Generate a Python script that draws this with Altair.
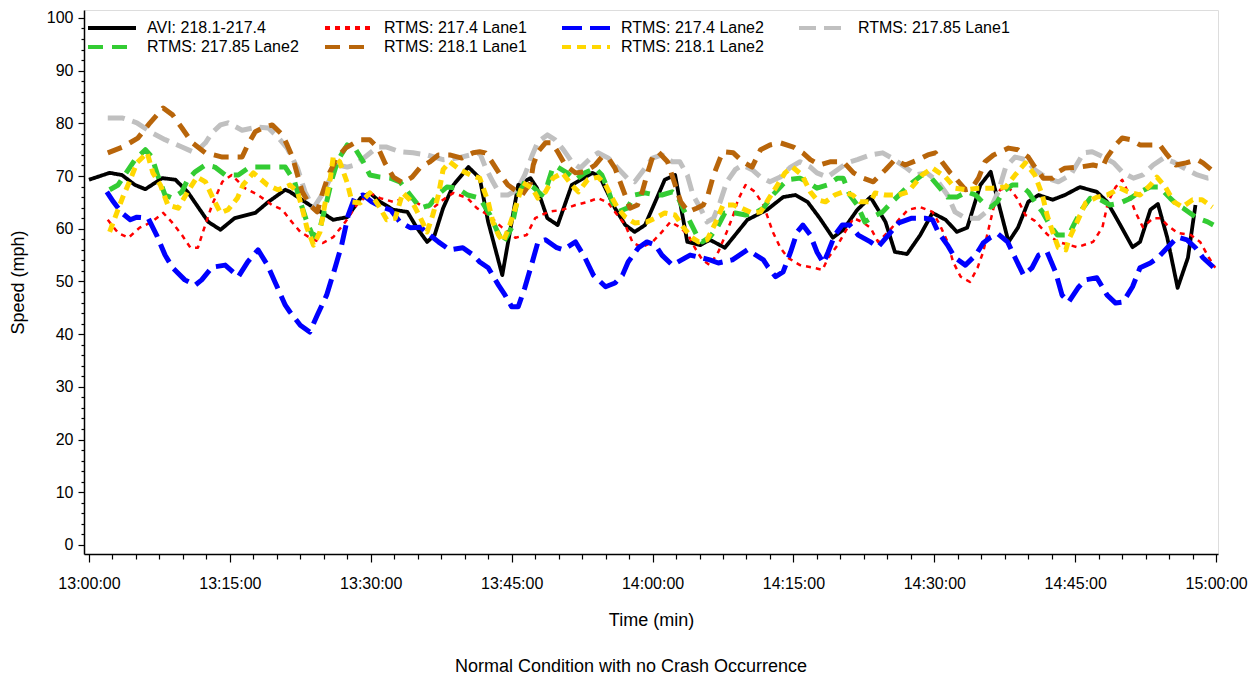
import altair as alt
import pandas as pd

# ---------------- data (minutes after 13:00:00, speed in mph) ----------------
series_names = [
    "AVI: 218.1-217.4",
    "RTMS: 217.4 Lane1",
    "RTMS: 217.4 Lane2",
    "RTMS: 217.85 Lane1",
    "RTMS: 217.85 Lane2",
    "RTMS: 218.1 Lane1",
    "RTMS: 218.1 Lane2",
]

avi_t = [0.0, 2.2, 3.5, 4.9, 6.0, 7.8, 9.2, 10.5, 12.7, 14.0, 15.5, 17.7, 19.1, 20.9, 21.4, 23.5, 26.0, 27.5,
         28.9, 29.9, 31.0, 32.4, 33.9, 34.9, 36.0, 36.8, 37.7, 38.8, 40.4, 41.6, 42.5, 44.0, 45.7, 47.0, 47.7,
         48.8, 49.9, 51.4, 53.6, 54.4, 56.0, 57.1, 58.1, 59.2, 60.6, 61.3, 62.4, 63.7, 65.1, 66.1, 67.7, 70.1,
         72.2, 73.9, 75.2, 76.5, 77.8, 79.2, 80.3, 81.8, 83.2, 84.8, 85.8, 87.1, 88.5, 89.8, 91.2, 92.4, 93.5,
         94.9, 96.0, 96.8, 97.9, 98.9, 100.0, 101.1, 102.6, 103.9, 105.5, 107.3, 108.4, 109.8, 111.1, 111.9,
         113.0, 113.8, 114.8, 115.9, 117.0, 117.8]
avi_v = [69.3, 70.6, 70.2, 68.3, 67.5, 69.6, 69.3, 67.0, 61.3, 59.8, 62.0, 63.0, 65.1, 67.4, 67.0, 64.5, 61.7, 62.2,
         65.8, 66.8, 65.1, 63.6, 63.2, 60.2, 57.5, 58.8, 63.9, 68.3, 71.7, 69.6, 61.3, 51.2, 68.3, 69.6, 67.7,
         62.0, 60.7, 68.3, 70.6, 69.8, 63.9, 60.7, 59.4, 60.7, 66.4, 69.3, 70.2, 57.5, 56.9, 57.9, 56.4, 61.7,
         63.6, 66.0, 66.4, 65.1, 62.0, 58.3, 59.8, 63.6, 66.0, 61.3, 55.6, 55.2, 58.8, 63.0, 61.7, 59.4, 60.2,
         68.3, 70.8, 65.1, 57.5, 60.2, 65.1, 66.4, 65.5, 66.4, 67.9, 67.0, 65.1, 60.7, 56.5, 57.5,
         63.6, 64.7, 58.3, 48.8, 54.5, 64.5]

r174l1_t = [2.0, 3.1, 4.2, 5.4, 6.7, 7.9, 8.8, 9.9, 10.8, 11.6, 12.1, 13.1, 14.2, 15.2, 16.6, 18.0, 19.5, 20.6,
            21.4, 22.5, 23.9, 24.9, 26.0, 27.3, 28.5, 29.9, 31.0, 32.4, 33.9, 35.3, 36.6, 37.7, 38.8, 40.3,
            41.3, 42.5, 44.0, 45.4, 46.6, 47.5, 48.9, 50.4, 51.8, 53.1, 54.2, 55.3, 56.0, 57.1, 57.9, 58.9,
            60.0, 61.0, 61.9, 62.9, 63.8, 64.5, 65.3, 66.1, 67.0, 67.9, 68.6, 69.1, 69.9, 70.9, 71.8, 72.3,
            72.8, 73.6, 74.4, 75.7, 77.1, 78.1, 78.7, 79.7, 80.5, 81.4, 82.3, 83.2, 84.0, 85.1, 86.2, 87.2,
            88.5, 89.8, 90.6, 91.4, 92.0, 92.8, 93.8, 94.6, 95.2, 95.7, 96.3, 97.0, 97.9, 98.8, 99.7, 100.7,
            102.1, 103.2, 105.2, 106.9, 107.9, 108.5, 109.3, 110.0, 110.6, 111.4, 112.2, 113.3, 114.1, 114.8,
            115.9, 117.3, 118.3, 119.2, 119.9]
r174l1_v = [61.7, 59.2, 58.3, 60.2, 61.3, 63.0, 61.3, 58.8, 56.4, 56.4, 59.2, 64.5, 68.9, 70.2, 67.7, 66.4, 64.5, 63.6,
            61.7, 59.4, 57.9, 57.3, 58.4, 61.3, 64.5, 66.8, 65.8, 65.1, 66.0, 64.5, 63.9, 65.5, 66.8, 65.8,
            63.9, 62.6, 60.2, 58.3, 58.8, 62.0, 63.2, 63.6, 64.5, 65.1, 65.8, 64.9, 63.2, 60.7, 57.3, 56.5,
            57.5, 59.4, 61.3, 60.3, 58.8, 56.4, 54.1, 53.1, 55.6, 59.4, 62.6, 65.5, 68.3, 67.0, 64.5, 62.0,
            59.4, 56.4, 54.5, 53.1, 52.6, 52.2, 54.5, 56.9, 59.4, 62.0, 61.3, 60.2, 57.5, 59.4, 61.7, 63.6,
            64.1, 63.2, 60.7, 57.5, 53.7, 50.9, 49.9, 52.6, 55.6, 59.4, 63.9, 67.4, 67.9, 65.8, 62.6, 61.5,
            58.8, 57.5, 56.5, 57.5, 60.3, 65.1, 67.9, 69.3, 67.0, 63.2, 60.3, 62.0, 62.0, 60.7,
            59.2, 58.8, 57.5, 54.6, 52.6]

r174l2_t = [1.9, 2.6, 3.5, 4.4, 5.1, 6.3, 7.2, 8.1, 8.9, 10.2, 11.3, 12.0, 13.1, 14.5, 15.9, 16.9, 18.0, 19.0,
            19.8, 20.9, 21.4, 22.5, 23.5, 24.3, 25.3, 26.2, 26.9, 27.6, 28.3, 29.2, 30.1, 31.2, 32.1, 33.1,
            34.2, 35.3, 36.3, 37.2, 38.4, 39.8, 40.9, 41.6, 42.5, 43.6, 44.3, 45.0, 45.7, 46.4, 47.2, 47.8,
            48.6, 49.8, 50.5, 51.8, 52.8, 53.7, 55.0, 56.0, 56.8, 57.4, 58.5, 59.4, 60.3, 61.0, 62.1, 64.0,
            66.1, 67.0, 68.5, 70.1, 71.8, 72.3, 73.1, 73.9, 74.7, 75.4, 76.0, 76.8, 77.5, 78.2, 78.7, 79.4,
            80.2, 81.0, 81.9, 83.2, 84.0, 85.1, 86.2, 87.6, 89.0, 89.8, 90.4, 91.4, 92.2, 93.3, 94.4, 95.2,
            96.0, 96.8, 97.8, 98.6, 99.5, 100.4, 101.1, 102.0, 102.9, 103.6, 104.3, 105.3, 106.1, 107.3,
            108.4, 109.3, 110.1, 111.1, 111.9, 113.0, 113.8, 114.8, 115.9, 116.9, 117.8, 118.6, 119.7]
r174l2_v = [67.0, 65.1, 63.0, 61.7, 62.2, 62.0, 58.8, 55.0, 52.6, 50.3, 49.3, 50.3, 52.7, 53.1, 50.9, 53.7, 56.0, 53.1,
            49.9, 45.5, 44.2, 41.7, 40.4, 43.6, 47.4, 52.6, 56.9, 62.6, 66.0, 66.4, 65.1, 64.1, 63.6, 61.3,
            60.2, 60.3, 58.8, 57.5, 56.0, 56.4, 55.0, 53.7, 52.6, 49.3, 47.4, 45.2, 45.2, 48.8, 53.7, 57.5,
            57.9, 56.4, 56.0, 57.5, 54.5, 51.2, 49.0, 49.7, 51.2, 53.7, 56.4, 57.5, 56.9, 55.0, 53.1, 55.0,
            54.1, 53.5, 54.1, 56.0, 54.1, 52.7, 50.9, 51.8, 55.6, 59.4, 60.7, 58.8, 55.6, 53.5, 55.6, 58.8,
            60.7, 60.7, 58.8, 57.5, 56.5, 58.8, 61.1, 62.0, 62.0, 61.7, 59.4, 56.9, 54.5, 53.1, 55.0, 57.3,
            58.4, 59.0, 57.5, 54.5, 51.2, 52.6, 55.0, 55.6, 51.8, 47.4, 46.1, 48.8, 50.3, 50.7,
            47.4, 45.9, 46.1, 49.0, 52.6, 53.5, 54.5, 56.4, 58.4, 57.9, 56.4, 54.5, 52.7]

r1785l1_t = [2.0, 3.6, 5.1, 6.7, 8.1, 9.9, 11.3, 12.4, 13.1, 14.0, 14.8, 16.3, 18.0, 19.1, 20.1, 21.1, 22.2, 23.0,
             23.9, 24.8, 25.7, 26.5, 27.5, 28.3, 29.4, 30.7, 31.7, 33.1, 34.5, 36.0, 37.7, 39.2, 40.6, 41.6,
             42.2, 43.0, 43.8, 44.6, 45.6, 46.4, 47.2, 47.8, 48.8, 49.6, 50.5, 51.4, 52.3, 53.4, 54.2, 55.3,
             56.3, 57.3, 58.1, 59.2, 60.0, 61.0, 62.1, 62.9, 63.7, 64.3, 65.1, 65.8, 66.5, 67.2, 67.9, 68.8,
             69.6, 70.6, 71.5, 72.5, 73.6, 74.7, 75.7, 76.8, 77.5, 78.6, 79.7, 80.7, 81.8, 83.2, 84.5, 85.5,
             86.9, 88.0, 89.2, 90.4, 91.4, 92.2, 93.3, 94.7, 96.0, 96.8, 97.6, 98.6, 99.7, 100.7, 102.0,
             103.2, 104.5, 105.9, 106.8, 108.0, 109.1, 110.1, 111.2, 112.2, 113.3, 114.4, 115.4, 116.9,
             118.0, 119.1, 119.9]
r1785l1_v = [81.0, 81.0, 80.1, 78.2, 76.9, 75.5, 74.4, 76.3, 78.2, 79.7, 80.1, 78.7, 79.3, 79.1, 77.4, 75.3, 71.5, 67.0,
             63.9, 66.4, 69.6, 72.1, 71.7, 72.1, 73.6, 75.5, 75.5, 74.6, 74.4, 74.0, 73.1, 73.4, 74.0, 74.4,
             71.7, 68.9, 66.4, 66.4, 67.4, 70.2, 74.0, 76.5, 77.8, 76.9, 75.0, 72.7, 71.5, 73.4, 74.4, 73.4,
             71.5, 69.6, 68.9, 71.5, 73.4, 74.0, 72.7, 72.7, 70.2, 66.4, 63.9, 61.3, 62.0, 65.1, 68.9, 71.2,
             72.1, 71.2, 69.8, 68.9, 69.8, 71.7, 72.7, 71.7, 70.6, 69.8, 71.2, 72.5, 73.1, 74.0, 74.4, 73.4,
             71.7, 70.2, 70.6, 68.9, 66.4, 63.2, 62.0, 62.0, 63.9, 67.0, 71.7, 73.6, 73.1, 71.2, 69.6,
             68.9, 70.2, 74.4, 74.6, 73.6, 72.5, 70.6, 69.6, 70.2, 72.1, 73.4, 72.7, 71.2,
             70.2, 69.6, 69.8]

r1785l2_t = [2.2, 3.1, 3.8, 4.9, 6.0, 6.7, 7.3, 8.1, 8.9, 9.9, 10.5, 11.3, 12.4, 13.4, 14.5, 15.9, 17.1, 18.2,
             19.5, 20.9, 21.9, 22.5, 23.2, 23.9, 24.6, 25.3, 25.9, 26.5, 27.5, 28.3, 29.2, 29.9, 31.0, 32.1,
             33.1, 34.2, 35.3, 36.3, 37.1, 38.1, 39.2, 40.3, 41.6, 42.7, 43.5, 44.1, 45.0, 45.7, 46.4, 47.3,
             48.2, 48.8, 49.4, 49.9, 50.9, 51.8, 52.8, 53.9, 54.6, 55.2, 55.7, 56.3, 57.3, 58.1, 59.2, 60.3,
             61.0, 62.1, 62.6, 63.3, 64.0, 64.7, 65.3, 66.1, 66.9, 67.7, 68.8, 69.9, 70.9, 71.8, 72.8, 73.8,
             74.4, 75.7, 76.5, 77.5, 78.6, 79.7, 80.3, 81.0, 81.8, 82.6, 83.8, 84.5, 85.5, 86.6, 87.6, 88.7,
             89.6, 90.6, 91.4, 92.4, 93.5, 94.4, 95.1, 96.0, 96.7, 97.3, 98.3, 99.1, 100.0, 100.7, 101.5,
             102.3, 103.1, 104.3, 105.0, 105.8, 106.6, 107.7, 108.7, 109.8, 110.9, 111.9, 113.0, 114.0,
             115.1, 115.9, 116.5, 118.0, 119.1, 119.7]
r1785l2_v = [67.4, 68.3, 70.2, 73.1, 75.0, 73.6, 70.2, 66.4, 65.8, 67.0, 69.3, 70.8, 72.1, 71.7, 70.2, 70.2, 71.7, 71.7,
             71.7, 71.7, 68.9, 65.1, 61.3, 58.4, 60.2, 65.1, 69.6, 73.0, 75.9, 75.3, 72.7, 70.2, 69.8, 69.6,
             68.9, 66.4, 63.9, 64.5, 66.4, 67.9, 67.7, 66.4, 65.8, 62.6, 59.4, 57.3, 60.2, 66.4, 68.9, 67.9,
             66.4, 68.3, 71.7, 71.7, 70.6, 69.3, 70.6, 71.5, 70.2, 67.7, 65.1, 63.2, 63.9, 66.4, 66.8, 66.4,
             66.4, 67.0, 66.4, 63.6, 61.3, 58.8, 57.5, 58.4, 60.3, 63.0, 63.0, 62.6, 63.0, 63.9, 66.4, 68.3,
             69.3, 69.6, 68.9, 67.7, 68.3, 69.6, 69.6, 66.4, 64.5, 61.3, 62.6, 63.2, 65.1, 67.0, 68.7, 70.2,
             69.8, 67.7, 66.0, 66.0, 67.0, 66.4, 65.1, 64.1, 65.1, 67.0, 68.3, 68.3, 67.0, 65.1, 63.2,
             60.7, 58.8, 58.8, 61.3, 63.9, 65.8, 65.5, 64.5, 64.9, 65.8, 67.0, 67.9, 67.9,
             65.8, 64.5, 63.9, 62.0, 61.3, 60.7]

r181l1_t = [2.0, 3.6, 5.2, 6.5, 7.9, 8.9, 9.9, 11.0, 12.4, 14.2, 16.3, 16.9, 17.7, 18.7, 19.5, 20.6, 21.1, 21.7,
            22.2, 22.7, 23.5, 24.3, 24.8, 25.5, 26.4, 27.3, 28.9, 29.9, 30.8, 31.5, 32.4, 33.4, 34.4, 35.3,
            36.3, 37.2, 38.4, 39.7, 40.9, 41.6, 42.2, 42.9, 43.8, 44.6, 46.1, 47.0, 47.3, 47.8, 48.6, 49.3,
            49.9, 50.7, 51.8, 52.8, 53.9, 54.6, 55.3, 56.0, 56.8, 57.6, 58.4, 58.9, 59.4, 60.0, 60.6, 61.6,
            62.1, 63.0, 63.8, 64.7, 65.4, 65.9, 66.5, 67.2, 67.5, 68.6, 69.6, 70.6, 71.5, 72.5, 73.6, 75.0,
            76.0, 76.8, 77.8, 78.9, 80.3, 81.4, 82.4, 83.5, 84.8, 85.8, 86.9, 88.3, 89.3, 90.1, 90.8, 91.7,
            92.4, 93.3, 94.0, 94.7, 95.4, 96.3, 97.9, 98.9, 100.0, 100.7, 101.6, 102.6, 103.2, 103.9, 105.5,
            106.9, 107.9, 108.4, 109.3, 110.0, 110.9, 111.9, 114.0, 114.8, 115.7, 116.8, 118.0, 118.6, 119.9]
r181l1_v = [74.4, 75.5, 77.2, 80.1, 82.9, 81.6, 79.1, 76.3, 74.4, 73.6, 73.6, 75.9, 78.4, 79.3, 79.7, 77.8, 75.9, 73.4,
            70.2, 67.0, 64.5, 63.2, 66.4, 70.2, 73.4, 75.3, 76.9, 76.9, 75.3, 72.5, 69.8, 68.7, 69.8, 71.7,
            72.7, 74.0, 74.0, 73.4, 74.4, 74.6, 74.4, 72.7, 70.2, 68.3, 66.4, 68.7, 72.1, 74.6, 76.3, 76.3,
            74.6, 72.1, 70.6, 70.8, 72.1, 73.6, 73.4, 71.5, 67.7, 63.9, 64.5, 67.0, 70.2, 73.6, 74.6, 72.7,
            70.0, 65.1, 63.2, 63.9, 64.5, 66.4, 70.2, 73.4, 74.6, 74.4, 72.7, 71.7, 75.0, 75.9, 76.3, 75.5,
            74.4, 73.1, 72.1, 72.7, 72.7, 70.6, 69.6, 68.9, 71.2, 73.1, 72.1, 73.1, 74.0, 74.4, 72.7, 70.6,
            69.3, 67.4, 67.7, 69.6, 72.7, 74.0, 75.3, 75.0, 73.6, 71.7, 69.6, 69.6, 70.8, 71.5, 71.7,
            72.1, 71.7, 73.6, 75.9, 77.2, 76.9, 75.9, 75.9, 74.0, 72.1, 72.5, 73.1, 72.5, 70.6]

r181l2_t = [2.2, 3.0, 3.6, 4.4, 5.1, 6.2, 6.8, 7.6, 8.4, 9.5, 10.5, 11.5, 12.4, 13.2, 14.0, 14.8, 15.8, 16.4,
            17.5, 19.0, 20.1, 20.9, 21.4, 22.2, 22.7, 23.2, 23.9, 24.6, 25.1, 25.7, 26.0, 26.7, 27.5, 28.0,
            28.9, 29.9, 30.8, 31.7, 32.6, 33.4, 34.4, 35.3, 36.0, 36.6, 37.2, 37.7, 38.4, 39.5, 40.6, 41.6,
            42.5, 43.0, 43.6, 44.1, 44.8, 45.6, 46.2, 47.2, 47.8, 48.6, 49.4, 50.4, 51.4, 52.1, 53.1, 54.2,
            55.0, 55.7, 56.3, 57.1, 58.1, 59.4, 60.5, 61.3, 62.4, 63.3, 64.2, 64.9, 65.8, 66.7, 67.5, 68.6,
            69.5, 70.6, 71.5, 72.3, 73.3, 74.1, 74.9, 75.9, 76.8, 77.5, 78.4, 79.4, 80.3, 81.3, 82.1, 83.2,
            83.7, 84.8, 86.2, 87.2, 88.7, 89.8, 91.2, 92.2, 93.3, 94.7, 96.2, 97.6, 98.6, 99.7, 100.7,
            101.5, 102.0, 102.6, 103.2, 104.0, 104.3, 105.2, 106.1, 107.3, 108.4, 109.8, 110.6, 111.9,
            113.0, 113.7, 114.6, 115.5, 116.4, 117.5, 118.5, 119.6]
r181l2_v = [59.4, 63.2, 66.0, 69.3, 72.5, 74.4, 70.6, 68.3, 64.5, 63.9, 67.0, 69.8, 68.9, 65.8, 63.0, 63.6, 65.8, 68.3,
            70.6, 68.3, 67.4, 67.9, 68.3, 67.0, 63.9, 60.2, 56.9, 59.4, 64.5, 69.6, 73.6, 72.7, 68.7, 65.1,
            64.9, 66.8, 64.5, 61.7, 62.0, 66.8, 65.1, 62.0, 59.4, 62.6, 66.4, 71.2, 72.7, 71.2, 70.2, 69.6,
            65.1, 61.3, 58.8, 57.5, 60.7, 65.1, 68.7, 67.7, 65.8, 67.0, 69.6, 70.6, 68.3, 67.0, 69.3, 69.8,
            68.3, 65.8, 63.9, 62.2, 61.1, 61.3, 62.2, 63.0, 62.6, 60.2, 58.3, 57.5, 57.9, 61.1, 64.5, 64.5,
            63.9, 63.0, 63.2, 65.5, 68.3, 70.6, 71.7, 70.2, 67.0, 65.5, 65.1, 66.4, 67.0, 66.4, 65.1, 65.1,
            66.8, 66.4, 66.4, 67.0, 70.2, 71.5, 69.8, 67.7, 67.4, 67.7, 67.7, 67.9, 70.2, 72.5, 70.2,
            66.4, 62.6, 59.4, 56.4, 56.0, 57.9, 61.3, 64.9, 66.0, 66.4, 67.7, 67.0, 66.4,
            68.3, 69.8, 67.9, 65.1, 64.1, 65.5, 65.5, 64.1]

# ---------------- styles ----------------
line_colors = ["#000000", "#FF0000", "#0000FF", "#C0C0C0", "#33CC33", "#B8650A", "#FFD700"]
line_dashes = [[1, 0], [5, 5], [20, 8], [17, 8], [15, 9], [15, 9], [9, 6]]
line_widths = [3.8, 2.5, 5, 5, 5, 5, 5]

all_t = [avi_t, r174l1_t, r174l2_t, r1785l1_t, r1785l2_t, r181l1_t, r181l2_t]
all_v = [avi_v, r174l1_v, r174l2_v, r1785l1_v, r1785l2_v, r181l1_v, r181l2_v]

rows = []
for k, (name, ts, vs) in enumerate(zip(series_names, all_t, all_v)):
    for i, (t, v) in enumerate(zip(ts, vs)):
        rows.append({"series": name, "minute": t, "speed": v, "idx": i, "lw": line_widths[k]})
df = pd.DataFrame(rows)

FONT = "Liberation Sans"

# Legend symbol: a long horizontal stroke drawn by a custom path in a small box,
# so that the rows can sit close together.
legend = alt.Legend(
    title=None, orient="none", legendX=18, legendY=8, columns=4, direction="horizontal",
    symbolType="M-3,0H3", symbolSize=256, symbolStrokeWidth=4, symbolFillColor="transparent",
    labelFont=FONT, labelFontSize=16, labelColor="black", labelOffset=25,
    columnPadding=18, rowPadding=1, gridAlign="all", padding=0, labelLimit=400,
)

x_ticks = [i * 2.5 for i in range(49)]
y_ticks = list(range(0, 101, 2))

x_axis = alt.Axis(
    values=x_ticks,
    labelExpr="datum.value % 15 === 0 ? (13 + floor(datum.value / 60)) + ':' + "
              "((datum.value % 60) < 10 ? '0' : '') + (datum.value % 60) + ':00' : ''",
    labelOverlap=False, labelFlush=False,
    tickSize={"condition": {"test": "datum.value % 15 === 0", "value": 8}, "value": 5},
    tickColor="black", tickWidth=1.2, domainColor="black", domainWidth=1.5,
    labelFont=FONT, labelFontSize=16, labelColor="black", labelPadding=13,
    title="Time (min)", titleFont=FONT, titleFontSize=18, titleFontWeight="normal",
    titleColor="black", titleY=66, titleBaseline="middle", grid=False,
)

y_axis = alt.Axis(
    values=y_ticks,
    labelExpr="datum.value % 10 === 0 ? datum.value : ''",
    labelOverlap=False, labelFlush=False,
    tickSize={"condition": {"test": "datum.value % 10 === 0", "value": 6}, "value": 3},
    tickColor="black", tickWidth=1.2, domainColor="black", domainWidth=1.5,
    labelFont=FONT, labelFontSize=16, labelColor="black", labelPadding=5,
    title="Speed (mph)", titleFont=FONT, titleFontSize=18, titleFontWeight="normal",
    titleColor="black", titleX=-66, titleY=272, titleBaseline="middle", titleAlign="center",
    grid=False,
)

chart = alt.Chart(df).mark_line(clip=True, strokeCap="butt", strokeJoin="round").encode(
    x=alt.X("minute:Q", scale=alt.Scale(domain=[-0.53, 120.2], nice=False, zero=False), axis=x_axis),
    y=alt.Y("speed:Q", scale=alt.Scale(domain=[-1.71, 101.5], nice=False, zero=False), axis=y_axis),
    color=alt.Color("series:N", scale=alt.Scale(domain=series_names, range=line_colors), legend=legend),
    strokeDash=alt.StrokeDash("series:N", scale=alt.Scale(domain=series_names, range=line_dashes), legend=legend),
    strokeWidth=alt.StrokeWidth("lw:Q", scale=None, legend=None),
    order=alt.Order("idx:Q"),
).properties(
    width=1134, height=544,
    autosize=alt.AutoSizeParams(type="none"),
    padding={"left": 84, "top": 10, "right": 36, "bottom": 125},
    title=alt.TitleParams(
        "Normal Condition with no Crash Occurrence", orient="bottom", anchor="middle", frame="group",
        font=FONT, fontSize=18, fontWeight="normal", color="black", offset=29, dx=-20,
    ),
).configure_view(stroke="black", strokeWidth=1.5).configure(background="white")

chart.save("out.html", embed_options={"renderer": "svg", "actions": False})
